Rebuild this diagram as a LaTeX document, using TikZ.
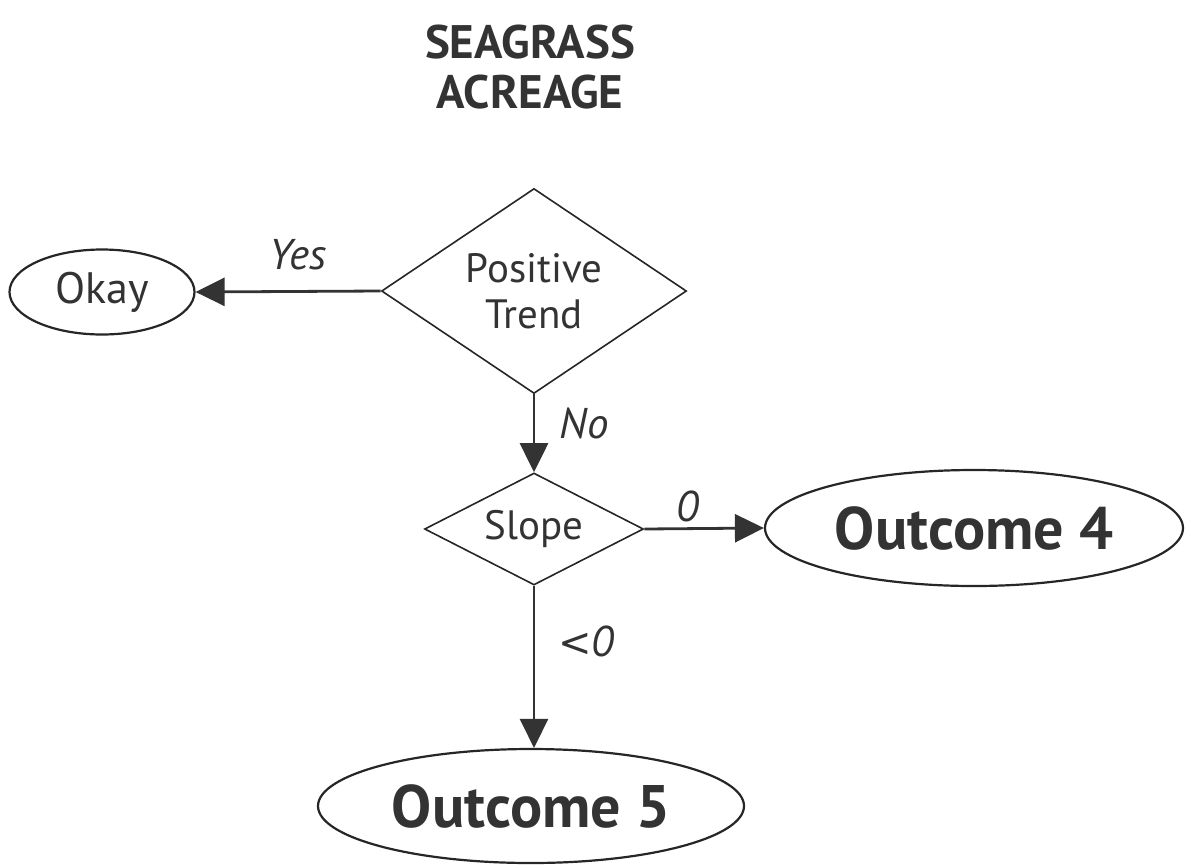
\documentclass[tikz,border=0pt]{standalone}
\usepackage{fontspec}
\setmainfont{PT Sans}
\newfontfamily\symfont{DejaVu Sans}
\usetikzlibrary{shapes.geometric,arrows.meta}
\tikzset{
  dia/.style={diamond, draw=black!85, line width=1.6pt, inner sep=0pt, font=\fontsize{41}{46}\selectfont, align=center, text=black!80},
  oval/.style={ellipse, draw=black!85, line width=2.2pt, inner sep=0pt, text=black!80},
  conn/.style={line width=2.8pt, draw=black!80, -{Triangle[length=29pt,width=28pt]}},
  lbl/.style={font=\fontsize{43}{48}\selectfont\itshape, text=black!80},
}
\begin{document}
\begin{tikzpicture}[x=1pt,y=-1pt]
\useasboundingbox (0,0) rectangle (1190,865);
\node[font=\fontsize{47}{50}\selectfont\bfseries, align=center, text=black!80] (title) at (530,67) {SEAGRASS\\ACREAGE};
\node[dia, shape aspect=1.5, minimum width=305pt, minimum height=205pt] (pt) at (534,291) {Positive\\Trend};
\node[oval, minimum width=185pt, minimum height=85pt, font=\fontsize{44}{50}\selectfont] (okay) at (102,292) {Okay};
\node[dia, shape aspect=2, minimum width=219pt, minimum height=112pt] (slope) at (534,529) {Slope};
\node[oval, minimum width=418pt, minimum height=116pt, font=\fontsize{60}{66}\selectfont\bfseries] (o4) at (974,528) {Outcome 4};
\node[oval, minimum width=426pt, minimum height=114pt, font=\fontsize{60}{66}\selectfont\bfseries] (o5) at (531,806) {Outcome 5};
\draw[conn] (pt.west) -- (okay.east);
\draw[conn] (pt.south) -- (slope.north);
\draw[conn] (slope.east) -- (o4.west);
\draw[conn] (slope.south) -- (o5.north -| slope.south);
\node[lbl] (yes) at (298,255) {Yes};
\node[lbl] (no) at (584,423) {No};
\node[lbl] (zero) at (688,506) {0};
\node[lbl] (lt) at (586,641) {{\upshape\symfont\fontsize{40}{44}\selectfont <}0};
\end{tikzpicture}
\end{document}
